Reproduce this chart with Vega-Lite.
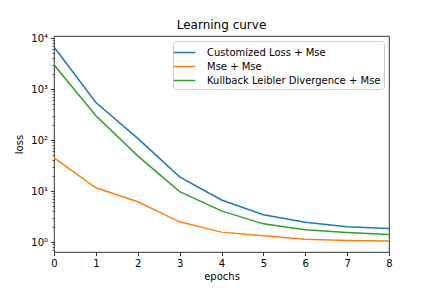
{
  "$schema": "https://vega.github.io/schema/vega-lite/v6.json",
  "width": 335,
  "height": 216,
  "autosize": {"type": "none"},
  "padding": {"left": 54, "top": 36, "right": 43, "bottom": 36},
  "background": "white",
  "title": {"text": "Learning curve", "fontSize": 12, "fontWeight": "normal", "font": "DejaVu Sans", "color": "#000", "offset": 1},
  "config": {
    "view": {"stroke": "#000", "strokeWidth": 0.8},
    "axis": {"labelFont": "DejaVu Sans", "titleFont": "DejaVu Sans", "labelFontSize": 10, "titleFontSize": 10, "titleFontWeight": "normal", "labelColor": "#000", "titleColor": "#000", "tickColor": "#000", "domainColor": "#000", "grid": false},
    "legend": {"labelFont": "DejaVu Sans", "labelFontSize": 10, "labelColor": "#000"}
  },
  "data": {"values": [
    {"epoch": 0, "loss": 6700, "series": "Customized Loss + Mse"},
    {"epoch": 1, "loss": 545, "series": "Customized Loss + Mse"},
    {"epoch": 2, "loss": 108, "series": "Customized Loss + Mse"},
    {"epoch": 3, "loss": 19, "series": "Customized Loss + Mse"},
    {"epoch": 4, "loss": 6.7, "series": "Customized Loss + Mse"},
    {"epoch": 5, "loss": 3.45, "series": "Customized Loss + Mse"},
    {"epoch": 6, "loss": 2.45, "series": "Customized Loss + Mse"},
    {"epoch": 7, "loss": 2.0, "series": "Customized Loss + Mse"},
    {"epoch": 8, "loss": 1.85, "series": "Customized Loss + Mse"},
    {"epoch": 0, "loss": 45, "series": "Mse + Mse"},
    {"epoch": 1, "loss": 11.6, "series": "Mse + Mse"},
    {"epoch": 2, "loss": 6.2, "series": "Mse + Mse"},
    {"epoch": 3, "loss": 2.5, "series": "Mse + Mse"},
    {"epoch": 4, "loss": 1.57, "series": "Mse + Mse"},
    {"epoch": 5, "loss": 1.33, "series": "Mse + Mse"},
    {"epoch": 6, "loss": 1.14, "series": "Mse + Mse"},
    {"epoch": 7, "loss": 1.08, "series": "Mse + Mse"},
    {"epoch": 8, "loss": 1.05, "series": "Mse + Mse"},
    {"epoch": 0, "loss": 3000, "series": "Kullback Leibler Divergence + Mse"},
    {"epoch": 1, "loss": 300, "series": "Kullback Leibler Divergence + Mse"},
    {"epoch": 2, "loss": 49, "series": "Kullback Leibler Divergence + Mse"},
    {"epoch": 3, "loss": 9.8, "series": "Kullback Leibler Divergence + Mse"},
    {"epoch": 4, "loss": 4.1, "series": "Kullback Leibler Divergence + Mse"},
    {"epoch": 5, "loss": 2.28, "series": "Kullback Leibler Divergence + Mse"},
    {"epoch": 6, "loss": 1.74, "series": "Kullback Leibler Divergence + Mse"},
    {"epoch": 7, "loss": 1.54, "series": "Kullback Leibler Divergence + Mse"},
    {"epoch": 8, "loss": 1.41, "series": "Kullback Leibler Divergence + Mse"}
  ]},
  "mark": {"type": "line", "strokeWidth": 1.5, "clip": true},
  "encoding": {
    "x": {"field": "epoch", "type": "quantitative",
      "scale": {"domain": [0, 8], "nice": false, "zero": false},
      "axis": {"title": "epochs", "values": [0,1,2,3,4,5,6,7,8], "tickSize": 3.5, "tickWidth": 0.8, "domain": false, "labelPadding": 3, "titlePadding": 3, "format": "d", "labelFlush": false}},
    "y": {"field": "loss", "type": "quantitative",
      "scale": {"type": "log", "domain": [0.64, 11000], "nice": false},
      "axis": {"title": "loss", "domain": false,
        "values": [0.7,0.8,0.9,1,2,3,4,5,6,7,8,9,10,20,30,40,50,60,70,80,90,100,200,300,400,500,600,700,800,900,1000,2000,3000,4000,5000,6000,7000,8000,9000,10000],
        "labelExpr": "datum.value==1?'10⁰':datum.value==10?'10¹':datum.value==100?'10²':datum.value==1000?'10³':datum.value==10000?'10⁴':''",
        "tickSize": {"condition": {"test": "datum.value==1||datum.value==10||datum.value==100||datum.value==1000||datum.value==10000", "value": 3.5}, "value": 2},
        "tickWidth": {"condition": {"test": "datum.value==1||datum.value==10||datum.value==100||datum.value==1000||datum.value==10000", "value": 0.8}, "value": 0.6},
        "labelPadding": 3, "labelOverlap": false, "labelFlush": false, "titlePadding": 6}},
    "color": {"field": "series", "type": "nominal",
      "scale": {"domain": ["Customized Loss + Mse", "Mse + Mse", "Kullback Leibler Divergence + Mse"], "range": ["#1f77b4", "#ff7f0e", "#2ca02c"]},
      "legend": {"title": null, "orient": "top-right", "offset": 5, "symbolType": "M-1.45,0L1.45,0", "symbolSize": 225, "symbolStrokeWidth": 1.5, "symbolFillColor": "transparent", "strokeColor": "#cccccc", "fillColor": "white", "cornerRadius": 3, "padding": 3, "rowPadding": -1, "labelOffset": 14, "labelLimit": 400}}
  }
}
